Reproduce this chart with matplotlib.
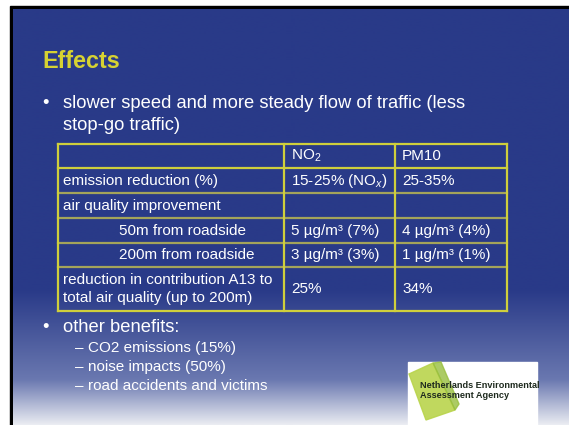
import matplotlib
matplotlib.use("Agg")
import matplotlib.pyplot as plt
import numpy as np
from matplotlib.patches import Rectangle, Polygon

plt.rcParams['font.family'] = ['Liberation Sans', 'DejaVu Sans']
plt.rcParams['mathtext.fontset'] = 'custom'
plt.rcParams['mathtext.rm'] = 'Liberation Sans'
plt.rcParams['mathtext.it'] = 'Liberation Sans:italic'

# slide content
title = "Effects"
bullet1 = ["slower speed and more steady flow of traffic (less", "stop-go traffic)"]
header = ["", r"NO$_2$", "PM10"]
row_labels = ["emission reduction (%)", "air quality improvement",
              "50m from roadside", "200m from roadside",
              "reduction in contribution A13 to\ntotal air quality (up to 200m)"]
row_indent = [False, False, True, True, False]
no2_vals = [r"15-25% (NO$_x$)", "", "5 µg/m³ (7%)", "3 µg/m³ (3%)", "25%"]
pm10_vals = ["25-35%", "", "4 µg/m³ (4%)", "1 µg/m³ (1%)", "34%"]
bullet2 = "other benefits:"
sub_items = ["CO2 emissions (15%)", "noise impacts (50%)", "road accidents and victims"]

W, H = 569, 425
fig = plt.figure(figsize=(W / 100, H / 100), dpi=100)
ax = fig.add_axes([0, 0, 1, 1])
ax.set_xlim(0, W)
ax.set_ylim(H, 0)
ax.axis('off')

# background: white page, black frame, blue slide with light gradient at bottom
fig.patch.set_facecolor('white')
ax.add_patch(Rectangle((10, 6), W - 10, H - 6, color='black', zorder=0))
top = np.array([0x29, 0x3a, 0x88]) / 255
mid = np.array([0x6a, 0x78, 0xb0]) / 255
bot = np.array([0xea, 0xec, 0xf2]) / 255
ys = np.linspace(9, H, 400)
t1 = np.clip((ys - 290) / 90, 0, 1)
t2 = np.clip((ys - 380) / 45, 0, 1)
grad = top[None, :] * (1 - t1[:, None]) + mid[None, :] * t1[:, None]
grad = grad * (1 - t2[:, None]) + bot[None, :] * t2[:, None]
ax.imshow(grad[:, None, :], extent=[13, W, H, 9], aspect='auto', zorder=1)

# title and bullets
ax.text(42, 61, title, color='#d6d232', fontsize=16.8, fontweight='bold', va='center', zorder=3)
ax.text(42, 103, "•", color='white', fontsize=13.2, va='center', zorder=3)
for i, line in enumerate(bullet1):
    ax.text(63, 103 + i * 22, line, color='white', fontsize=13.2, va='center', zorder=3)

# table
col_x = [58, 284, 395, 507]
row_y = [144, 168, 193, 218, 243, 267, 311]
yellow = '#cfcf3c'
for k, y in enumerate(row_y):
    c = yellow if k in (0, 1, len(row_y) - 1) else '#a4a45a'
    ax.plot([col_x[0], col_x[-1]], [y, y], color=c, lw=1.6, zorder=3)
for x in col_x:
    ax.plot([x, x], [row_y[0], row_y[-1]], color=yellow, lw=1.6, zorder=3)

cells = [header] + [[row_labels[i], no2_vals[i], pm10_vals[i]] for i in range(len(row_labels))]
for r, row in enumerate(cells):
    yc = (row_y[r] + row_y[r + 1]) / 2
    for c, txt in enumerate(row):
        x0 = col_x[c] + (5 if c == 0 else 7)
        if c == 0 and r > 0 and row_indent[r - 1]:
            x0 = col_x[0] + 61
        ax.text(x0, yc, txt, color='white', fontsize=11, va='center', ha='left',
                linespacing=1.35, zorder=4)

# other benefits
ax.text(42, 328, "•", color='white', fontsize=13.2, va='center', zorder=3)
ax.text(63, 328, bullet2, color='white', fontsize=13.2, va='center', zorder=3)
for i, s in enumerate(sub_items):
    ax.text(75, 348 + i * 19, "–", color='white', fontsize=11, va='center', zorder=3)
    ax.text(88, 348 + i * 19, s, color='white', fontsize=11, va='center', zorder=3)

# logo
box = Rectangle((408, 362), 129, 63, color='white', zorder=3)
ax.add_patch(box)
ax.add_patch(Polygon([[409, 374], [433, 363], [455, 410], [426, 420]],
                     closed=True, color='#b9d44c', alpha=0.9, zorder=4))
ax.add_patch(Polygon([[433, 363], [441, 362], [459, 404], [455, 410]],
                     closed=True, color='#98bf3e', alpha=0.8, zorder=4))
for txt, y in [("Netherlands Environmental", 385), ("Assessment Agency", 396)]:
    t = ax.text(420, y, txt, color='#1e2a1e', fontsize=6.6, fontweight='bold',
                va='center', zorder=5)
    t.set_clip_path(box)

fig.savefig("out.png", dpi=100)
